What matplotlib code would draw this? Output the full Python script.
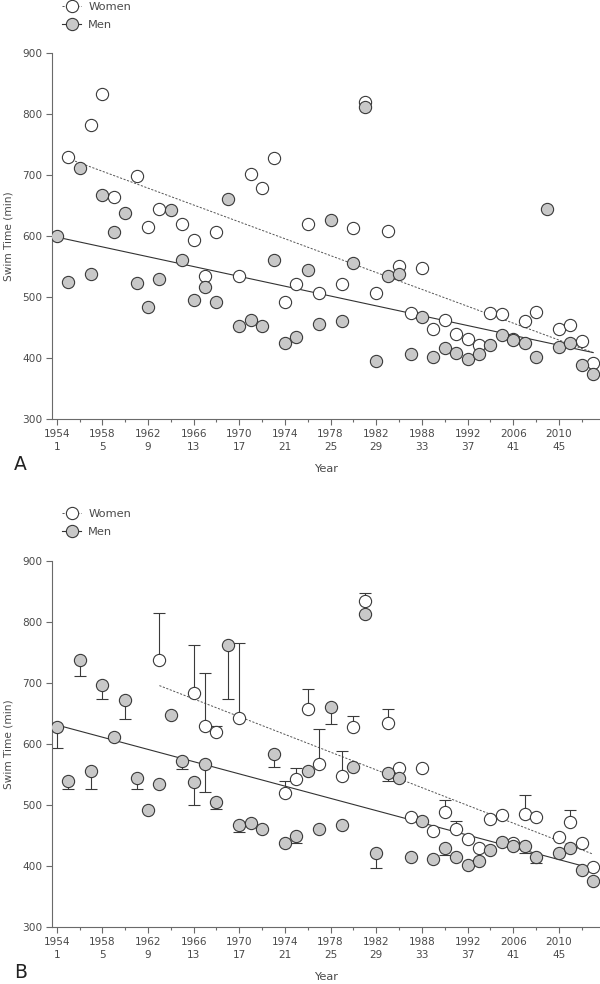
import numpy as np
import matplotlib
matplotlib.use('Agg')
import matplotlib.pyplot as plt
from matplotlib.lines import Line2D

# race number (1..48) and the matching year labels on the x axis
tick_idx = [1, 5, 9, 13, 17, 21, 25, 29, 33, 37, 41, 45]
tick_years = [1954, 1958, 1962, 1966, 1970, 1974, 1978, 1982, 1988, 1992, 2006, 2010]
minor_idx = [3, 7, 11, 15, 19, 23, 27, 31, 35, 39, 43, 47]

# panel A: fastest swim times
a_men_idx = list(range(1, 49))
a_men = [600, 525, 712, 538, 668, 607, 638, 523, 484, 529, 643, 561, 495, 517, 492, 660,
         452, 462, 452, 561, 425, 435, 545, 456, 627, 461, 555, 811, 395, 534, 537, 407,
         468, 401, 417, 409, 399, 407, 421, 437, 430, 424, 402, 644, 418, 425, 389, 374]
a_women_idx = [2, 4, 5, 6, 8, 9, 10, 12, 13, 14, 15, 17, 18, 19, 20, 21, 22, 23, 24, 26,
               27, 28, 29, 30, 31, 32, 33, 34, 35, 36, 37, 38, 39, 40, 41, 42, 43, 45, 46,
               47, 48]
a_women = [730, 782, 832, 664, 698, 615, 645, 620, 593, 535, 606, 534, 702, 678, 728, 491,
           522, 619, 506, 521, 613, 819, 507, 608, 551, 474, 548, 447, 463, 439, 431, 421,
           474, 472, 431, 461, 476, 447, 454, 428, 391]

# panel B: mean times with one-sided SD bars
b_men_idx = list(range(1, 44)) + [45, 46, 47, 48]
b_men = [628, 539, 737, 555, 697, 611, 672, 544, 492, 534, 648, 572, 537, 567, 505, 762,
         467, 470, 461, 584, 437, 450, 556, 461, 661, 467, 562, 813, 421, 553, 545, 414,
         474, 411, 430, 414, 401, 409, 426, 439, 432, 433, 415, 422, 430, 393, 375]
b_men_sd = [35, 12, 26, 28, 23, 0, 31, 17, 0, 0, 0, 13, 37, 45, 11, 88,
            11, 0, 0, 21, 0, 12, 0, 0, 29, 0, 0, 0, 24, 14, 0, 0,
            0, 0, 12, 0, 0, 0, 0, 0, 0, 12, 10, 0, 0, 0, 0]
b_women_idx = [10, 13, 14, 15, 17, 21, 22, 23, 24, 26, 27, 28, 30, 31, 32, 33, 34, 35, 36,
               37, 38, 39, 40, 41, 42, 43, 45, 46, 47, 48]
b_women = [737, 684, 629, 619, 642, 519, 542, 657, 567, 547, 628, 835, 635, 561, 480, 560,
           457, 489, 460, 444, 430, 477, 483, 437, 485, 480, 448, 472, 437, 398]
b_women_sd = [78, 79, 87, 11, 124, 21, 19, 33, 57, 42, 18, 12, 23, 0, 0, 0,
              0, 20, 14, 0, 0, 0, 0, 0, 32, 0, 0, 19, 0, 0]

EDGE = '#3a3a3a'
MEN_FILL = '#c8c8c8'
AXIS_COL = '#6a6a6a'
TEXT_COL = '#4a4a4a'
MS = 8.8
W_DASH = (0, (2.2, 1.6))


def _fit_line(ax, idx, vals, **kw):
    idx = np.asarray(idx, float)
    k, b = np.polyfit(idx, np.asarray(vals, float), 1)
    xs = np.array([idx.min(), idx.max()])
    ax.plot(xs, k * xs + b, zorder=1, **kw)


def _style(ax):
    for s in ('top', 'right'):
        ax.spines[s].set_visible(False)
    for s in ('left', 'bottom'):
        ax.spines[s].set_color(AXIS_COL)
        ax.spines[s].set_linewidth(0.8)
    ax.set_xlim(0.59, 48.6)
    ax.set_ylim(300, 900)
    ax.set_yticks(range(300, 901, 100))
    ax.set_xticks(tick_idx)
    ax.set_xticklabels([f'{y}\n{i}' for y, i in zip(tick_years, tick_idx)], linespacing=1.45)
    ax.set_xticks(minor_idx, minor=True)
    ax.tick_params(which='both', direction='out', color=AXIS_COL, width=0.8,
                   labelcolor=TEXT_COL, labelsize=7.6)
    ax.tick_params(which='major', length=4, pad=3)
    ax.tick_params(which='minor', length=2.5)
    ax.set_ylabel('Swim Time (min)', fontsize=7.6, color=TEXT_COL, labelpad=6)
    ax.set_xlabel('Year', fontsize=8.2, color=TEXT_COL)
    ax.xaxis.set_label_coords(0.5, -0.124)


def _points(ax, idx, vals, fill):
    ax.plot(idx, vals, ls='none', marker='o', ms=MS, mfc=fill, mec=EDGE, mew=0.8, zorder=3)


def _legend(fig, top_px):
    handles = [
        Line2D([], [], color='#555555', lw=0.7, ls=W_DASH, marker='o', ms=MS,
               mfc='white', mec=EDGE, mew=0.8),
        Line2D([], [], color='#333333', lw=0.8, marker='o', ms=MS,
               mfc=MEN_FILL, mec=EDGE, mew=0.8),
    ]
    fig.legend(handles, ['Women', 'Men'], loc='upper left', frameon=False,
               bbox_to_anchor=(62 / 600, 1 - top_px / 984), borderpad=0, borderaxespad=0,
               handlelength=1.7, handletextpad=0.6, labelspacing=0.67,
               prop={'size': 8.2}, labelcolor=TEXT_COL)


fig = plt.figure(figsize=(6, 9.84), dpi=100)
ax_a = fig.add_axes([52 / 600, 1 - 419 / 984, 548 / 600, 366 / 984])
ax_b = fig.add_axes([52 / 600, 1 - 927 / 984, 548 / 600, 366 / 984])

# A
_fit_line(ax_a, a_women_idx, a_women, color='#555555', lw=0.7, ls=W_DASH)
_fit_line(ax_a, a_men_idx, a_men, color='#333333', lw=0.8)
_points(ax_a, a_women_idx, a_women, 'white')
_points(ax_a, a_men_idx, a_men, MEN_FILL)
_style(ax_a)

# B
_fit_line(ax_b, b_women_idx, b_women, color='#555555', lw=0.7, ls=W_DASH)
_fit_line(ax_b, b_men_idx, b_men, color='#333333', lw=0.8)
w_sel = [i for i, e in enumerate(b_women_sd) if e > 0]
ax_b.errorbar([b_women_idx[i] for i in w_sel], [b_women[i] for i in w_sel],
              yerr=[[0] * len(w_sel), [b_women_sd[i] for i in w_sel]],
              fmt='none', ecolor='#3a3a3a', elinewidth=0.8, capsize=4, capthick=0.8, zorder=2)
m_sel = [i for i, e in enumerate(b_men_sd) if e > 0]
ax_b.errorbar([b_men_idx[i] for i in m_sel], [b_men[i] for i in m_sel],
              yerr=[[b_men_sd[i] for i in m_sel], [0] * len(m_sel)],
              fmt='none', ecolor='#3a3a3a', elinewidth=0.8, capsize=4, capthick=0.8, zorder=2)
_points(ax_b, b_women_idx, b_women, 'white')
_points(ax_b, b_men_idx, b_men, MEN_FILL)
_style(ax_b)

_legend(fig, 2)
_legend(fig, 509)

fig.text(20 / 600, 1 - 465 / 984, 'A', fontsize=13.5, color='#222222', ha='center', va='center')
fig.text(21 / 600, 1 - 972 / 984, 'B', fontsize=13.5, color='#222222', ha='center', va='center')

fig.savefig('out.png', dpi=100)
plt.close(fig)
